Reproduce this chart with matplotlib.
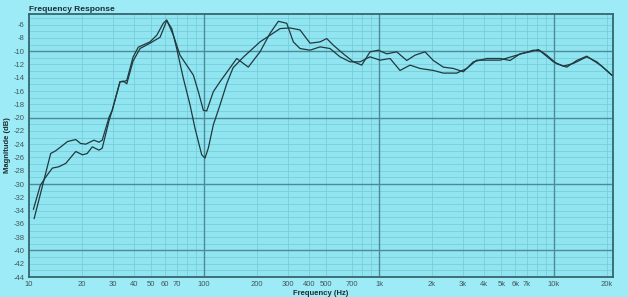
import matplotlib
matplotlib.use('Agg')
import matplotlib.pyplot as plt
from matplotlib.ticker import FixedLocator, NullFormatter

plt.rcParams['font.family'] = ['Liberation Sans', 'DejaVu Sans']

# measurement 1 (shallow dip near 100 Hz)
freq_a = [10.7, 13.3, 14.2, 15.2, 16.6, 18.5, 19.7, 21.1, 23.5, 25.1, 26.2, 28.7, 29.9,
          33.1, 34.6, 36.2, 39.3, 42.1, 49.1, 53.7, 58.5, 61.2, 66.8, 72.9, 79.6, 86.9,
          92.8, 99.1, 103.6, 113, 123.4, 153.8, 179, 208.9, 238.4, 265.9, 296.9, 323.8,
          353.7, 403.5, 460.2, 524.8, 598.6, 682.8, 778.6, 888.3, 1013, 1156, 1318, 1504,
          1715, 2043, 2330, 2780, 3170, 3616, 4913, 6121, 7617, 8318, 9908, 11300, 12890,
          15380, 17540, 21370]
mag_a = [-35.2, -25.4, -25.0, -24.4, -23.6, -23.3, -23.9, -24.0, -23.4, -23.7, -23.4, -19.9, -18.9,
         -14.6, -14.6, -14.4, -10.9, -9.4, -8.6, -7.6, -5.8, -5.3, -7.6, -10.6, -12.1, -13.6,
         -16.1, -18.9, -19.0, -16.1, -14.6, -11.1, -12.4, -10.1, -7.3, -5.5, -5.8, -8.6,
         -9.6, -9.85, -9.35, -9.6, -10.85, -11.6, -11.6, -10.85, -11.35, -11.1, -12.9, -12.1,
         -12.6, -12.9, -13.3, -13.3, -12.6, -11.35, -11.35, -10.6, -9.85, -9.95, -11.6, -12.25, -11.85,
         -10.85, -11.6, -13.6]

# measurement 2 (deep dip near 100 Hz)
freq_b = [10.6, 11.6, 12.5, 13.6, 14.8, 16.2, 18.5, 20.2, 21.5, 23.0, 25.1, 26.2, 28.7, 29.8,
          33.1, 34.6, 36.2, 39.3, 43.1, 49.1, 56.1, 61.2, 65.4, 69.8, 76.2, 83.2, 88.8,
          92.8, 97.0, 101.3, 105.8, 113, 123.4, 134.8, 146.5, 167.7, 208.9, 238.4, 271.9,
          310, 353.7, 403.5, 460.2, 502.5, 548.2, 625.2, 713.1, 796.2, 888.3, 990.8, 1107,
          1262, 1440, 1606, 1832, 2043, 2330, 2658, 3032, 3458, 4125, 4913, 5605, 6393,
          7293, 8135, 9084, 10360, 11820, 13480, 15380, 16770, 18740, 21370]
mag_b = [-33.8, -30.2, -28.9, -27.6, -27.4, -26.9, -25.1, -25.6, -25.4, -24.4, -24.9, -24.6, -20.4, -19.0,
         -14.6, -14.5, -14.9, -11.5, -9.6, -8.8, -7.9, -5.4, -6.6, -9.6, -14.1, -18.1, -21.6,
         -23.6, -25.6, -26.1, -24.6, -21.1, -18.1, -14.9, -12.5, -10.9, -8.6, -7.6, -6.6,
         -6.5, -6.8, -8.8, -8.6, -8.1, -9.1, -10.4, -11.6, -12.1, -10.1, -9.85, -10.4,
         -10.1, -11.4, -10.6, -10.1, -11.4, -12.4, -12.6, -13.1, -11.6, -11.1, -11.1, -11.4, -10.4,
         -10.1, -9.75, -10.6, -11.9, -12.4, -11.4, -10.75, -11.4, -12.25, -13.6]

xtick_pos = [10, 20, 30, 40, 50, 60, 70, 100, 200, 300, 400, 500, 700,
             1000, 2000, 3000, 4000, 5000, 6000, 7000, 10000, 20000]
xtick_lab = ['10', '20', '30', '40', '50', '60', '70', '100', '200', '300', '400', '500', '700',
             '1k', '2k', '3k', '4k', '5k', '6k', '7k', '10k', '20k']
xminor_pos = [80, 90, 800, 900, 8000, 9000]
ytick_pos = list(range(-44, -5, 2))

fig = plt.figure(figsize=(6.28, 2.97), dpi=100, facecolor='#9CEBF6')
ax = fig.add_axes([0.0462, 0.0673, 0.9298, 0.8856])
ax.set_facecolor('#90E5F1')

ax.set_xscale('log')
ax.set_xlim(10, 21700)
ax.set_ylim(-44, -4.4)

ax.xaxis.set_major_locator(FixedLocator(xtick_pos))
ax.set_xticklabels(xtick_lab)
ax.xaxis.set_minor_locator(FixedLocator(xminor_pos))
ax.xaxis.set_minor_formatter(NullFormatter())
ax.set_yticks(ytick_pos)
ax.set_yticklabels([str(v) for v in ytick_pos])
ax.yaxis.set_minor_locator(FixedLocator(list(range(-43, -4, 2))))

ax.grid(which='both', color='#76CCD9', linewidth=0.55)
for v in [-40, -30, -20, -10]:
    ax.axhline(v, color='#4D8C96', linewidth=1.0, zorder=1)
for v in [100, 1000, 10000]:
    ax.axvline(v, color='#4D8C96', linewidth=1.0, zorder=1)
ax.set_axisbelow(True)

ax.tick_params(which='both', length=0, labelsize=5.5, labelcolor='#44565A', pad=3)

for s in ax.spines.values():
    s.set_color('#35666E')
    s.set_linewidth(1.3)

ax.plot(freq_a, mag_a, color='#22393E', linewidth=0.9, zorder=3)
ax.plot(freq_b, mag_b, color='#22393E', linewidth=0.9, zorder=3)

ax.set_title('Frequency Response', loc='left', fontsize=6, fontweight='bold',
             color='#1E2C30', pad=2)
ax.set_xlabel('Frequency (Hz)', fontsize=5.5, fontweight='bold', color='#1E2C30', labelpad=1)
ax.set_ylabel('Magnitude (dB)', fontsize=5.5, fontweight='bold', color='#1E2C30', labelpad=2)

fig.savefig('out.png', dpi=100, facecolor=fig.get_facecolor())
